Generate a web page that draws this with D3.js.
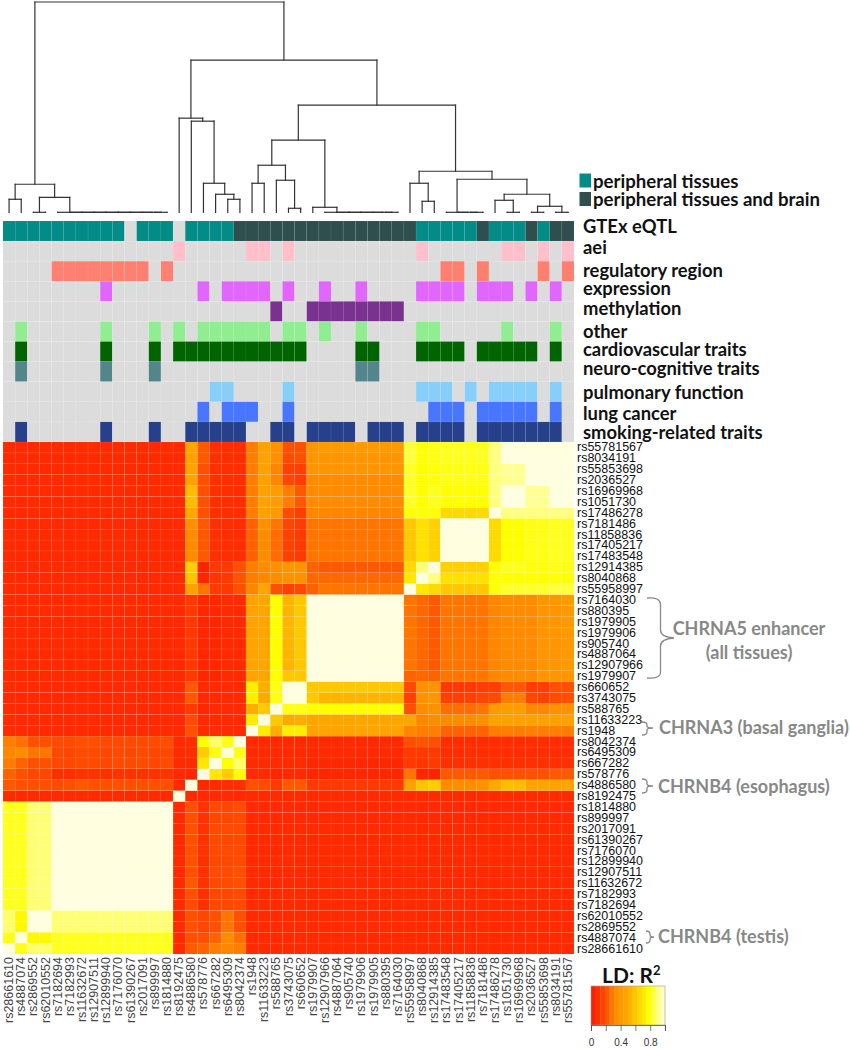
<!DOCTYPE html>
<html><head><meta charset="utf-8">
<style>html,body{margin:0;padding:0;background:#fff}svg{display:block}</style>
<script src="https://cdn.jsdelivr.net/npm/d3@7"></script></head><body>
<svg id="c" width="850" height="1050"></svg>
<script>
const snps=["rs28661610","rs4887074","rs2869552","rs62010552","rs7182694","rs7182993","rs11632672","rs12907511","rs12899940","rs7176070","rs61390267","rs2017091","rs899997","rs1814880","rs8192475","rs4886580","rs578776","rs667282","rs6495309","rs8042374","rs1948","rs11633223","rs588765","rs3743075","rs660652","rs1979907","rs12907966","rs4887064","rs905740","rs1979906","rs1979905","rs880395","rs7164030","rs55958997","rs8040868","rs12914385","rs17483548","rs17405217","rs11858836","rs7181486","rs17486278","rs1051730","rs16969968","rs2036527","rs55853698","rs8034191","rs55781567"];
const annotationRows=["GTEx eQTL","aei","regulatory region","expression","methylation","other","cardiovascular traits","neuro-cognitive traits","pulmonary function","lung cancer","smoking-related traits"];
const gtexPeripheral=[0,1,2,3,4,5,6,7,8,9,11,12,13,15,16,17,18,34,35,36,37,38,40,41,42,44];
const gtexBrain=[19,20,21,22,23,24,25,26,27,28,29,30,31,32,33,39,43,45,46];
const aei=[14,20,21,23,34,41,42,44,46];
const regulatory=[4,5,6,7,8,9,10,11,13,36,37,39,44,46];
const expression=[8,16,18,19,20,21,23,26,29,34,35,36,37,39,40,41,43,45];
const methylation=[22,25,26,27,28,29,30,31,32];
const other=[1,8,12,14,16,17,18,19,20,21,23,24,26,29,34,35,41,45];
const cardio=[1,8,12,14,15,16,17,18,19,20,21,22,23,24,29,30,34,35,36,37,39,40,41,42,43,45];
const neuro=[1,8,12,29,30];
const pulmonary=[17,18,23,34,35,36,38,40,41,42,43,45];
const lung=[16,18,19,20,23,35,36,37,39,40,41,42,43,45];
const smoking=[1,8,12,15,16,17,18,19,22,23,25,26,27,28,30,31,32,34,35,36,37,39,40,41,42,43,44,45];
const annColours=["#038c87","#ffc0cb","#ff7f70","#e066ff","#7a3290","#90ee90","#006400","#53868b","#87cefa","#4876ff","#27408b"];
const annSets=[gtexPeripheral,aei,regulatory,expression,methylation,other,cardio,neuro,pulmonary,lung,smoking];
const gtexBrainColour="#2f4f4f";
const ldLower=[
[100],
[80,100],
[88,76,100],
[88,76,100,100],
[81,81,89,89,100],
[81,81,89,89,100,100],
[81,81,89,89,100,100,100],
[81,81,89,89,100,100,100,100],
[81,81,89,89,100,100,100,100,100],
[81,81,89,89,100,100,100,100,100,100],
[81,81,89,89,100,100,100,100,100,100,100],
[81,81,89,89,100,100,100,100,100,100,100,100],
[81,81,89,89,100,100,100,100,100,100,100,100,100],
[81,81,89,89,100,100,100,100,100,100,100,100,100,100],
[7,7,7,7,7,7,7,7,7,7,7,7,7,7,100],
[22,20,20,20,18,20,22,20,20,20,20,20,20,20,7,100],
[24,20,17,17,9,9,10,10,9,10,10,10,10,10,7,6,100],
[30,24,20,20,17,17,18,18,17,18,18,18,17,18,7,7,70,100],
[32,33,28,28,17,17,18,18,17,18,17,18,17,17,7,8,62,78,100],
[30,27,20,20,18,18,20,20,18,18,18,18,18,19,7,8,78,88,80,100],
[7,7,7,7,7,7,7,7,7,7,7,7,7,7,7,20,7,7,7,7,100],
[7,7,7,7,7,7,7,7,7,7,7,7,7,7,7,18,7,7,7,7,72,100],
[7,7,7,7,7,7,7,7,7,7,7,7,7,7,7,12,6,7,7,7,50,60,100],
[7,7,7,7,7,7,7,7,7,7,7,7,7,7,7,22,7,7,7,7,72,48,80,100],
[7,7,7,7,7,7,7,7,7,7,7,7,7,7,7,22,7,7,7,7,72,50,80,100,100],
[7,7,7,7,7,7,7,7,7,7,7,7,7,7,7,12,6,6,7,7,46,47,78,60,60,100],
[7,7,7,7,7,7,7,7,7,7,7,7,7,7,7,12,6,6,7,7,46,47,78,53,60,100,100],
[7,7,7,7,7,7,7,7,7,7,7,7,7,7,7,12,6,6,7,7,46,47,78,53,60,100,100,100],
[7,7,7,7,7,7,7,7,7,7,7,7,7,7,7,12,6,6,7,7,46,47,78,53,60,100,100,100,100],
[7,7,7,7,7,7,7,7,7,7,7,7,7,7,7,12,6,6,7,7,46,47,78,53,60,100,100,100,100,100],
[7,7,7,7,7,7,7,7,7,7,7,7,7,7,7,12,6,6,7,7,46,47,78,53,60,100,100,100,100,100,100],
[7,7,7,7,7,7,7,7,7,7,7,7,7,7,7,12,6,6,7,7,46,47,78,53,60,100,100,100,100,100,100,100],
[7,7,7,7,7,7,7,7,7,7,7,7,7,7,7,12,6,6,7,7,46,47,78,53,60,100,100,100,100,100,100,100,100],
[7,7,7,7,7,7,7,7,7,7,7,7,7,7,7,45,28,12,12,20,32,47,20,15,18,24,28,28,28,28,28,28,28,100],
[7,7,7,7,7,7,7,7,7,7,7,7,7,7,7,58,6,11,12,21,30,32,33,36,35,25,25,25,25,25,25,25,25,70,100],
[7,7,7,7,7,7,7,7,7,7,7,7,7,7,7,62,5,12,12,20,30,33,35,38,37,24,22,22,22,22,22,22,22,66,90,100],
[7,7,7,7,7,7,7,7,7,7,7,7,7,7,7,33,22,9,8,8,24,33,26,15,12,28,28,28,28,28,28,28,28,60,68,63,100],
[7,7,7,7,7,7,7,7,7,7,7,7,7,7,7,33,22,9,8,8,24,33,26,15,12,28,28,28,28,28,28,28,28,60,68,63,100,100],
[7,7,7,7,7,7,7,7,7,7,7,7,7,7,7,33,22,9,8,8,24,33,26,15,12,28,28,28,28,28,28,28,28,60,68,63,100,100,100],
[7,7,7,7,7,7,7,7,7,7,7,7,7,7,7,35,22,9,8,8,24,35,28,17,14,28,28,28,28,28,28,28,28,60,68,63,100,100,100,100],
[7,7,7,7,7,7,7,7,7,7,7,7,7,7,7,48,20,9,8,8,30,45,40,18,14,32,32,32,32,32,32,32,32,79,79,78,66,66,66,66,100],
[7,7,7,7,7,7,7,7,7,7,7,7,7,7,7,56,20,9,8,8,30,45,42,30,22,33,33,33,33,33,33,33,33,82,78,81,78,78,78,78,90,100],
[7,7,7,7,7,7,7,7,7,7,7,7,7,7,7,56,20,9,8,8,30,45,42,30,22,33,33,33,33,33,33,33,33,82,78,81,78,78,78,78,90,100,100],
[7,7,7,7,7,7,7,7,7,7,7,7,7,7,7,46,20,9,8,8,30,45,32,17,14,33,33,33,33,33,33,33,33,82,78,79,80,80,80,80,90,92,92,100],
[7,7,7,7,7,7,7,7,7,7,7,7,7,7,7,47,20,9,8,8,30,45,32,15,14,38,38,38,38,38,38,38,38,82,78,79,80,80,80,80,90,92,92,100,100],
[7,7,7,7,7,7,7,7,7,7,7,7,7,7,7,45,22,9,8,8,30,45,35,18,20,38,38,38,38,38,38,38,38,84,79,80,81,81,81,81,90,100,100,100,100,100],
[7,7,7,7,7,7,7,7,7,7,7,7,7,7,7,47,22,9,8,8,30,45,35,20,20,38,40,40,40,40,40,40,40,84,79,80,81,81,81,81,90,100,100,100,100,100,100]
];
// Dendrogram as [mergeHeight, left, right]; a bare number is a leaf (column index)
const dendrogram=[210,
 [28,[13,0,1],[15,[0,2,3],[0,4,[0,5,[0,6,[0,7,[0,8,[0,9,[0,10,[0,11,[0,12,13]]]]]]]]]]],
 [152,
  [94,14,[91,15,[29,16,[18,17,[13,18,19]]]]],
  [107,
   [72,
    [47,[29,20,21],[32,22,[4,23,24]]],
    [5,25,[0,26,[0,27,[0,28,[0,29,[0,30,[0,31,32]]]]]]]],
   [41,
    [29,33,[11,34,35]],
    [33,[0,36,[0,37,[0,38,39]]],
     [18,[12,40,[0,41,42]],[6,[0,43,44],[0,45,46]]]]]]]];
const legendLabels=["peripheral tissues","peripheral tissues and brain"];
const barTicks=[0,0.2,0.4,0.6,0.8,1];
const barTickLabels=["0","","0.4","","0.8",""];
const barSteps=d3.range(16);
const ldDomain=[0,.07,.2,.33,.47,.6,.78,.9,1];
const ldRange=["#ff1500","#ff2a00","#ff5000","#ff8c00","#ffa500","#ffc800","#ffff00","#ffff80","#ffffe0"];

const svg=d3.select("#c");
const serif="Lato,'Open Sans',sans-serif";
const color=d3.scaleLinear().domain(ldDomain).range(ldRange).clamp(true);
const order=d3.range(snps.length);
const x=d3.scaleBand().domain(order).range([3,574]);
const yHeat=d3.scaleBand().domain(order.slice().reverse()).range([442,954]);
const yAnn=d3.scaleBand().domain(annotationRows).range([221,442]);

// dendrogram
const toNode=d=>typeof d==="number"?{leaf:d,h:0}:{h:d[0],kids:[d[1],d[2]]};
const root=d3.hierarchy(toNode(dendrogram),n=>n.kids?n.kids.map(toNode):null);
root.eachAfter(n=>{n.px=n.children?d3.mean(n.children,c=>c.px):x(n.data.leaf)+x.bandwidth()/2;});
const yD=d3.scaleLinear().domain([0,210]).range([212.3,2]);
const links=[];
root.each(n=>{if(!n.children)return;
 links.push([[n.children[0].px,yD(n.data.h)],[n.children[1].px,yD(n.data.h)]]);
 n.children.forEach(c=>links.push([[c.px,yD(n.data.h)],[c.px,yD(c.data.h)]]));
});
svg.append("g").selectAll("path").data(links).join("path")
 .attr("d",d3.line()).attr("fill","none").attr("stroke","#333").attr("stroke-width",1.2).attr("stroke-linecap","square");

// legend
const legY=[173.5,192];
const legC=[annColours[0],gtexBrainColour];
svg.append("g").selectAll("rect").data(legendLabels).join("rect")
 .attr("x",579.5).attr("y",(d,i)=>legY[i]).attr("width",11.5).attr("height",14).attr("fill",(d,i)=>legC[i]);
const bold=(sel)=>sel.attr("font-family",serif).attr("font-weight",700).attr("dominant-baseline","central");
svg.append("g").selectAll("text").data(legendLabels).join("text").call(bold)
 .attr("x",593).attr("y",(d,i)=>[181,199][i]).attr("font-size",18.6).attr("fill","#111").text(d=>d);

// annotation cells
const annCells=[];
annotationRows.forEach((r,ri)=>order.forEach(c=>{
 let col="#dcdcdc";
 if(annSets[ri].includes(c))col=annColours[ri];
 if(ri===0&&gtexBrain.includes(c))col=gtexBrainColour;
 annCells.push({r,c,col});
}));
svg.append("g").selectAll("rect").data(annCells).join("rect")
 .attr("x",d=>x(d.c)).attr("y",d=>yAnn(d.r)).attr("width",x.bandwidth()).attr("height",yAnn.bandwidth())
 .attr("fill",d=>d.col).attr("stroke","#fff").attr("stroke-opacity",.1).attr("stroke-width",.5);
const annLabelY=[226,247,270,288,308,331,349,368,392,413,432];
svg.append("g").selectAll("text").data(annotationRows).join("text").call(bold)
 .attr("x",583).attr("y",(d,i)=>annLabelY[i]).attr("font-size",18.4).attr("fill","#111").text(d=>d);

// heatmap
const cells=[];
order.forEach(i=>order.forEach(j=>{
 const v=(i>=j?ldLower[i][j]:ldLower[j][i])/100;
 cells.push({i,j,v});
}));
svg.append("g").selectAll("rect").data(cells).join("rect")
 .attr("x",d=>x(d.j)).attr("y",d=>yHeat(d.i)).attr("width",x.bandwidth()).attr("height",yHeat.bandwidth())
 .attr("fill",d=>color(d.v)).attr("stroke","#fff").attr("stroke-opacity",.1).attr("stroke-width",.5);

// SNP labels
svg.append("g").selectAll("text").data(order).join("text")
 .attr("x",577).attr("y",d=>yHeat(d)+yHeat.bandwidth()/2).attr("dominant-baseline","central")
 .attr("font-family","'Liberation Sans',Arial,sans-serif").attr("font-size",12.5).attr("fill","#111").text(d=>snps[d]);
svg.append("g").selectAll("text").data(order).join("text")
 .attr("transform",d=>`translate(${x(d)+x.bandwidth()/2},957) rotate(-90)`).attr("text-anchor","end").attr("dominant-baseline","central")
 .attr("font-family","'Liberation Sans',Arial,sans-serif").attr("font-size",12.5).attr("fill","#444").text(d=>snps[d]);

// brackets
const grey="#888888";
const brackets=[
 "M647,598 Q660,597 660.5,604 L660.5,630 Q660.5,637 674,638 Q660.5,639 660.5,646 L660.5,672 Q660.5,679 647,678",
 "M642,722 Q647,722 647,725 L647,726 Q647,728 653,728 Q647,728 647,730 L647,732 Q647,735 642,735",
 "M642,779 Q647,779 647,782 L647,784 Q647,786 653,786 Q647,786 647,788 L647,790 Q647,793 642,793",
 "M646,931 Q650,931 650,934 L650,935 Q650,937 654,937 Q650,937 650,939 L650,940 Q650,943 646,943"];
svg.append("g").selectAll("path").data(brackets).join("path").attr("d",d=>d).attr("fill","none").attr("stroke",grey).attr("stroke-width",1.3);
const notes=[["CHRNA5 enhancer",749,628,"middle"],["(all tissues)",749,652,"middle"],["CHRNA3 (basal ganglia)",659,727,"start"],["CHRNB4 (esophagus)",658,786,"start"],["CHRNB4 (testis)",658,936,"start"]];
svg.append("g").selectAll("text").data(notes).join("text").call(bold)
 .attr("x",d=>d[1]).attr("y",d=>d[2]).attr("text-anchor",d=>d[3]).attr("font-size",18).attr("fill",grey).text(d=>d[0]);

// colour bar
const bx=d3.scaleLinear().domain([0,1]).range([591,665]);
const bar=svg.append("g");
bar.selectAll("rect").data(barSteps).join("rect")
 .attr("x",d=>bx(d/16)).attr("y",986).attr("width",bx(1/16)-bx(0)+.3).attr("height",39)
 .attr("fill",d=>color((d+.5)/16));
bar.append("rect").attr("x",591).attr("y",986).attr("width",74).attr("height",39).attr("fill","none").attr("stroke","#999").attr("stroke-width",.6);
const ax=svg.append("g").attr("transform","translate(0,1025)")
 .call(d3.axisBottom(bx).tickValues(barTicks).tickSize(6).tickFormat((d,i)=>barTickLabels[i]));
ax.select(".domain").attr("stroke","#444").attr("stroke-width",.7);
ax.selectAll("line").attr("stroke","#444").attr("stroke-width",.7);
ax.selectAll("text").attr("font-family","'Liberation Sans',Arial,sans-serif").attr("font-size",10).attr("fill","#333").attr("dy","1.15em");
const t=svg.append("text").attr("x",602).attr("y",983).attr("font-family",serif).attr("font-weight",700).attr("font-size",21).attr("fill","#111");
t.append("tspan").text("LD: R");
t.append("tspan").attr("font-size",13).attr("dy",-8).text("2");
</script></body></html>
